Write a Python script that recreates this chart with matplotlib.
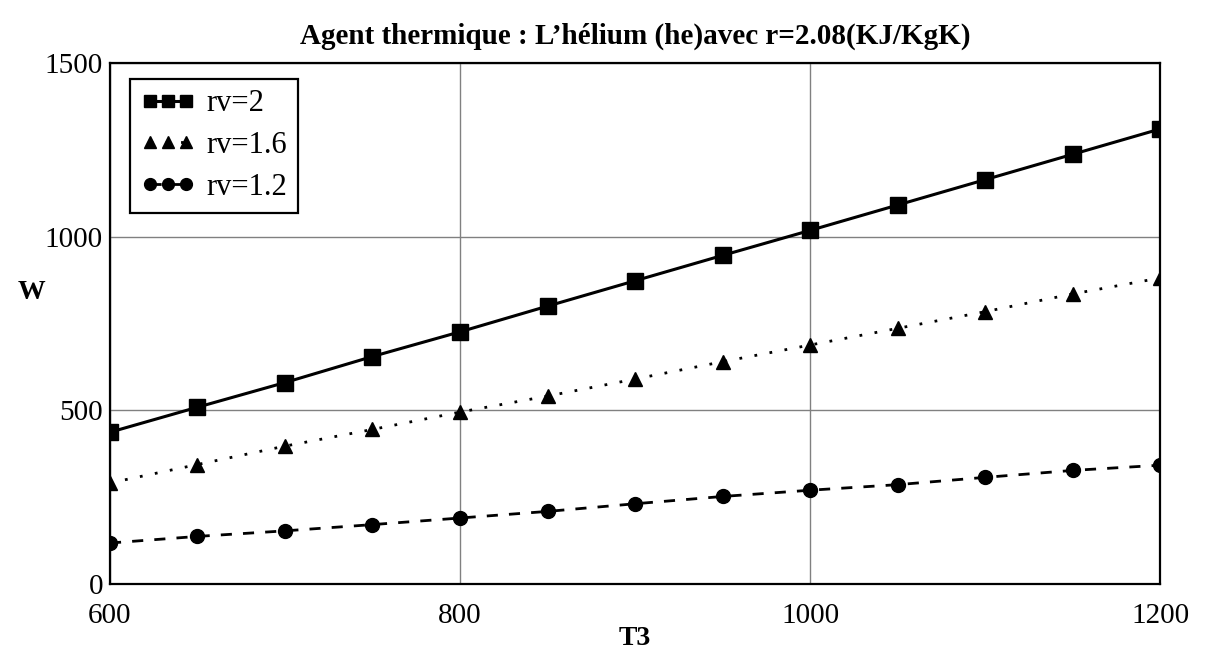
import matplotlib
matplotlib.use("Agg")
import matplotlib.pyplot as plt

plt.rcParams["font.family"] = ["Liberation Serif", "DejaVu Serif"]

# Travail utile W en fonction de T3 pour trois rapports volumétriques
t3 = [600, 650, 700, 750, 800, 850, 900, 950, 1000, 1050, 1100, 1150, 1200]
w_rv2 = [437, 509, 580, 655, 726, 800, 873, 946, 1018, 1091, 1164, 1237, 1310]
w_rv16 = [291, 344, 397, 445, 495, 541, 590, 640, 688, 736, 784, 835, 881]
w_rv12 = [118, 137, 153, 171, 190, 209, 231, 252, 270, 286, 307, 327, 342]

x_ticks = [600, 800, 1000, 1200]
y_ticks = [0, 500, 1000, 1500]

fig = plt.figure(figsize=(12.1, 6.55), dpi=100)
ax = fig.add_axes([0.0909, 0.1084, 0.8678, 0.7954])

ax.plot(t3, w_rv2, color="black", lw=2.2, ls="-", marker="s", ms=11, label="rv=2")
ax.plot(t3, w_rv16, color="black", lw=2.0, ls=(0, (1, 4.5)), marker="^", ms=10, label="rv=1.6")
ax.plot(t3, w_rv12, color="black", lw=2.0, ls=(0, (4, 4)), marker="o", ms=10, label="rv=1.2")

ax.set_xlim(600, 1200)
ax.set_ylim(0, 1500)
ax.set_xticks(x_ticks)
ax.set_yticks(y_ticks)
ax.grid(True, color="#808080", lw=1.0)
ax.tick_params(length=0, labelsize=21)
ax.tick_params(axis="x", pad=14)
ax.tick_params(axis="y", pad=5)
for s in ax.spines.values():
    s.set_linewidth(1.6)
    s.set_color("black")

ax.set_title("Agent thermique : L\u2019hélium (he)avec r=2.08(KJ/KgK)",
             fontsize=21, fontweight="bold", pad=14)
ax.set_xlabel("T3", fontsize=20, fontweight="bold", labelpad=0)
ax.xaxis.set_label_coords(0.5, -0.08)
ax.set_ylabel("W", fontsize=20, fontweight="bold", rotation=0)
ax.yaxis.set_label_coords(-0.075, 0.535)

leg = ax.legend(loc="upper left", bbox_to_anchor=(0.019, 0.97), fontsize=22,
                numpoints=3, markerscale=0.85, handlelength=1.8, handletextpad=0.35,
                fancybox=False, framealpha=1, edgecolor="black",
                borderpad=0.35, labelspacing=0.42, borderaxespad=0)
leg.get_frame().set_linewidth(1.6)

fig.savefig("out.png", dpi=100)
plt.close(fig)
